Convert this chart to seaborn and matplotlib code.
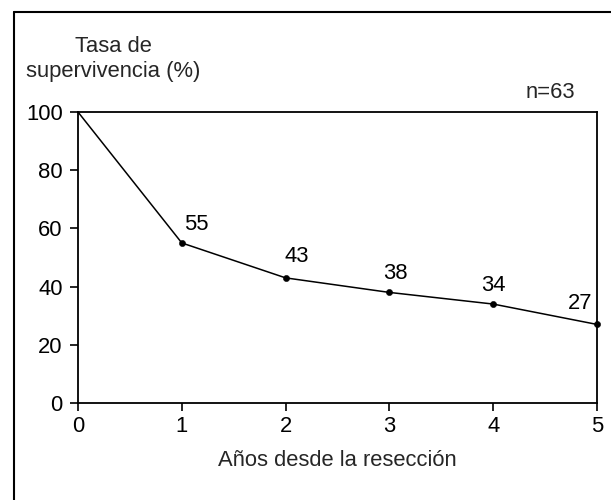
import matplotlib
matplotlib.use("Agg")
import matplotlib.pyplot as plt
import seaborn as sns
import pandas as pd
from matplotlib.lines import Line2D

years = [0, 1, 2, 3, 4, 5]
survival = [100, 55, 43, 38, 34, 27]
point_labels = ["", "55", "43", "38", "34", "27"]
x_ticks = [0, 1, 2, 3, 4, 5]
y_ticks = [0, 20, 40, 60, 80, 100]

sns.set_theme(style="white")
plt.rcParams['font.family'] = ['Liberation Sans', 'DejaVu Sans']

FS = 15.8
df = pd.DataFrame({"year": years, "survival": survival})

W, H = 611, 500
fig = plt.figure(figsize=(W / 100, H / 100), dpi=100)
ax = fig.add_axes([78 / W, 1 - 403 / H, (597 - 78) / W, (403 - 112) / H])

sns.lineplot(data=df, x="year", y="survival", ax=ax, color="black", linewidth=1.1)
sns.scatterplot(data=df[df.year > 0], x="year", y="survival", ax=ax, color="black",
                s=20, edgecolor="black", zorder=3, clip_on=False)

offsets = {1: (15, 18), 2: (11, 21), 3: (6, 19), 4: (0, 19), 5: (-17, 21)}
for x, y, lab in zip(years, survival, point_labels):
    if lab:
        dx, dy = offsets[x]
        ax.annotate(lab, (x, y), xytext=(dx, dy), textcoords="offset pixels",
                    ha="center", va="center", fontsize=FS, color="black")

ax.set_xlim(0, 5)
ax.set_ylim(0, 100)
ax.set_xticks(x_ticks)
ax.set_yticks(y_ticks)
ax.set_xticklabels([str(t) for t in x_ticks])
ax.set_yticklabels([str(t) for t in y_ticks])
ax.set_xlabel("Años desde la resección", fontsize=FS, va="center")
ax.xaxis.set_label_coords(0.5, (403 - 460) / 291)
ax.set_ylabel("")
ax.tick_params(axis="both", direction="out", length=6, width=1.2, colors="black",
               labelsize=FS, left=True, bottom=True)
ax.tick_params(axis="y", pad=5)
ax.tick_params(axis="x", pad=3)
for s in ax.spines.values():
    s.set_color("black")
    s.set_linewidth(1.3)
    s.set_visible(True)

fig.text(113 / W, 1 - 59 / H, "Tasa de\nsupervivencia (%)", ha="center", va="center",
         fontsize=FS, multialignment="center", linespacing=1.3)
fig.text(550 / W, 1 - 93 / H, "n=63", ha="center", va="center", fontsize=FS)

# figure frame (left and top edges)
fig.add_artist(Line2D([14 / W, 14 / W], [0, 1 - 12 / H], transform=fig.transFigure,
                      color="black", linewidth=1.5))
fig.add_artist(Line2D([14 / W, 1], [1 - 12 / H, 1 - 12 / H], transform=fig.transFigure,
                      color="black", linewidth=1.5))

fig.savefig("out.png", dpi=100)
